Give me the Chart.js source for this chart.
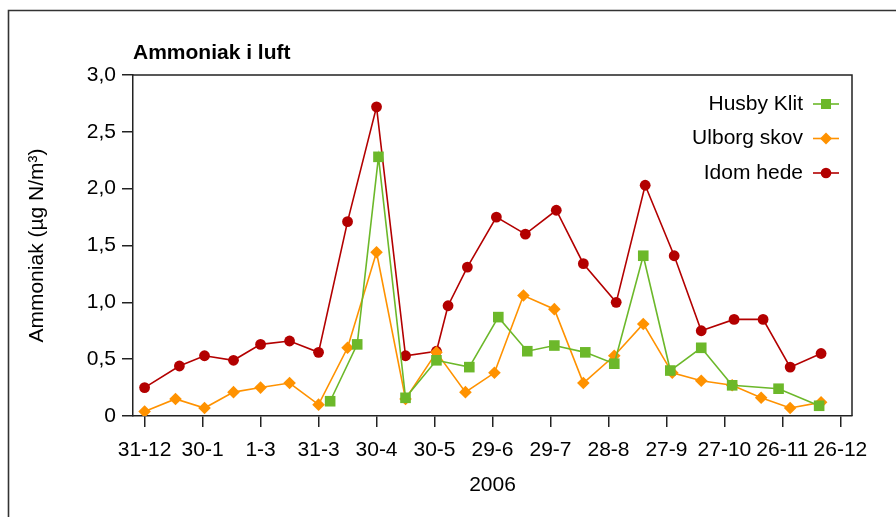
<!DOCTYPE html>
<html>
<head>
<meta charset="utf-8">
<script src="https://cdn.jsdelivr.net/npm/chart.js@4/dist/chart.umd.min.js"></script>
<style>
  html, body { margin: 0; padding: 0; background: #fff; }
  #wrap { position: relative; width: 896px; height: 517px; }
</style>
</head>
<body>
<div id="wrap"><canvas id="c" width="896" height="517"></canvas></div>
<script>
// ---- data (days counted from 31-12-2005) ----
const chartTitle = 'Ammoniak i luft';
const yTitle = 'Ammoniak (µg N/m³)';
const xTitle = '2006';
const tickDays = [0, 30, 60, 90, 120, 150, 180, 210, 240, 270, 300, 330, 360];
const tickLabels = ['31-12', '30-1', '1-3', '31-3', '30-4', '30-5', '29-6', '29-7', '28-8', '27-9', '27-10', '26-11', '26-12'];
const yTickValues = [0, 0.5, 1, 1.5, 2, 2.5, 3];

const seriesNames = ['Husby Klit', 'Ulborg skov', 'Idom hede'];

const husbyDays = [96, 110, 121, 135, 151, 168, 183, 198, 212, 228, 243, 258, 272, 288, 304, 328, 349];
const husbyValues = [0.13, 0.63, 2.28, 0.16, 0.49, 0.43, 0.87, 0.57, 0.62, 0.56, 0.46, 1.41, 0.40, 0.60, 0.27, 0.24, 0.09];

const ulborgDays = [0, 16, 31, 46, 60, 75, 90, 105, 120, 135, 151, 166, 181, 196, 212, 227, 243, 258, 273, 288, 304, 319, 334, 350];
const ulborgValues = [0.04, 0.15, 0.07, 0.21, 0.25, 0.29, 0.10, 0.60, 1.44, 0.15, 0.56, 0.21, 0.38, 1.06, 0.94, 0.29, 0.53, 0.81, 0.38, 0.31, 0.27, 0.16, 0.07, 0.12];

const idomDays = [0, 18, 31, 46, 60, 75, 90, 105, 120, 135, 151, 157, 167, 182, 197, 213, 227, 244, 259, 274, 288, 305, 320, 334, 350];
const idomValues = [0.25, 0.44, 0.53, 0.49, 0.63, 0.66, 0.56, 1.71, 2.72, 0.53, 0.57, 0.97, 1.31, 1.75, 1.60, 1.81, 1.34, 1.00, 2.03, 1.41, 0.75, 0.85, 0.85, 0.43, 0.55];

const colors = { green: '#6cb82a', orange: '#ff9200', red: '#b30000' };

function pts(days, vals) { return days.map((d, i) => ({ x: d, y: vals[i] })); }

const FONT = '"Liberation Sans", Arial, Helvetica, sans-serif';
const FS = 21;
const AXIS = '#222';

const framePlugin = {
  id: 'frame',
  beforeDraw(chart) {
    const ctx = chart.ctx;
    ctx.save();
    ctx.fillStyle = '#fff';
    ctx.fillRect(0, 0, chart.width, chart.height);
    ctx.strokeStyle = '#333';
    ctx.lineWidth = 1.6;
    ctx.beginPath();
    ctx.moveTo(8.5, 600);
    ctx.lineTo(8.5, 10.5);
    ctx.lineTo(1000, 10.5);
    ctx.stroke();
    ctx.restore();
  },
  afterDraw(chart) {
    const ctx = chart.ctx;
    const a = chart.chartArea;
    ctx.save();
    ctx.strokeStyle = AXIS;
    ctx.lineWidth = 1.5;
    ctx.beginPath();
    ctx.moveTo(a.left, a.top);
    ctx.lineTo(a.right, a.top);
    ctx.lineTo(a.right, a.bottom);
    ctx.stroke();
    // title
    ctx.fillStyle = '#000';
    ctx.font = 'bold ' + FS + 'px ' + FONT;
    ctx.textAlign = 'left';
    ctx.textBaseline = 'middle';
    ctx.fillText(chartTitle, a.left, 53);
    // legend
    ctx.font = FS + 'px ' + FONT;
    ctx.textAlign = 'right';
    chart.data.datasets.forEach((ds, i) => {
      const y = 104 + i * 34.5;
      ctx.fillStyle = '#000';
      ctx.fillText(ds.label, 803, y);
      ctx.strokeStyle = ds.borderColor;
      ctx.lineWidth = 1.6;
      ctx.beginPath();
      ctx.moveTo(813, y);
      ctx.lineTo(839, y);
      ctx.stroke();
      ctx.fillStyle = ds.pointBackgroundColor;
      const cx = 826;
      if (ds.pointStyle === 'rect') {
        ctx.fillRect(cx - 5, y - 5, 10, 10);
      } else if (ds.pointStyle === 'rectRot') {
        ctx.beginPath();
        ctx.moveTo(cx, y - 6); ctx.lineTo(cx + 6, y); ctx.lineTo(cx, y + 6); ctx.lineTo(cx - 6, y);
        ctx.closePath(); ctx.fill();
      } else {
        ctx.beginPath(); ctx.arc(cx, y, 5.3, 0, Math.PI * 2); ctx.fill();
      }
    });
    ctx.restore();
  }
};

new Chart(document.getElementById('c'), {
  type: 'line',
  data: {
    datasets: [
      { label: seriesNames[0], data: pts(husbyDays, husbyValues), borderColor: colors.green, backgroundColor: colors.green,
        pointBackgroundColor: colors.green, pointBorderColor: colors.green, pointStyle: 'rect', pointRadius: 7.5, borderWidth: 1.6, pointBorderWidth: 0 },
      { label: seriesNames[1], data: pts(ulborgDays, ulborgValues), borderColor: colors.orange, backgroundColor: colors.orange,
        pointBackgroundColor: colors.orange, pointBorderColor: colors.orange, pointStyle: 'rectRot', pointRadius: 6.3, borderWidth: 1.6, pointBorderWidth: 0 },
      { label: seriesNames[2], data: pts(idomDays, idomValues), borderColor: colors.red, backgroundColor: colors.red,
        pointBackgroundColor: colors.red, pointBorderColor: colors.red, pointStyle: 'circle', pointRadius: 5.4, borderWidth: 1.6, pointBorderWidth: 0 }
    ]
  },
  options: {
    responsive: false,
    animation: false,
    devicePixelRatio: 1,
    layout: { padding: { top: 75, right: 44, bottom: 0, left: 0 } },
    plugins: { legend: { display: false }, title: { display: false }, tooltip: { enabled: false } },
    elements: { line: { tension: 0 } },
    scales: {
      x: {
        type: 'linear', min: -6, max: 366,
        afterBuildTicks: (s) => { s.ticks = tickDays.map(v => ({ value: v })); },
        afterFit: (s) => { s.height = 101; },
        ticks: { autoSkip: false, maxRotation: 0, padding: 11, color: '#000', font: { family: FONT, size: FS },
          callback: (v) => { const i = tickDays.indexOf(v); return i >= 0 ? tickLabels[i] : ''; } },
        grid: { drawOnChartArea: false, tickLength: 11, color: AXIS, lineWidth: 1.5 },
        border: { color: AXIS, width: 1.5 },
        title: { display: true, text: xTitle, color: '#000', font: { family: FONT, size: FS }, padding: { top: 0, bottom: 19 } }
      },
      y: {
        min: 0, max: 3,
        afterBuildTicks: (s) => { s.ticks = yTickValues.map(v => ({ value: v })); },
        afterFit: (s) => { s.width = 133; },
        ticks: { padding: 6, color: '#000', font: { family: FONT, size: FS },
          callback: (v) => v === 0 ? '0' : v.toFixed(1).replace('.', ',') },
        grid: { drawOnChartArea: false, tickLength: 11, color: AXIS, lineWidth: 1.5 },
        border: { color: AXIS, width: 1.5 },
        title: { display: true, text: yTitle, color: '#000', font: { family: FONT, size: FS }, padding: { top: 25, bottom: 0 } }
      }
    }
  },
  plugins: [framePlugin]
});
</script>
</body>
</html>
